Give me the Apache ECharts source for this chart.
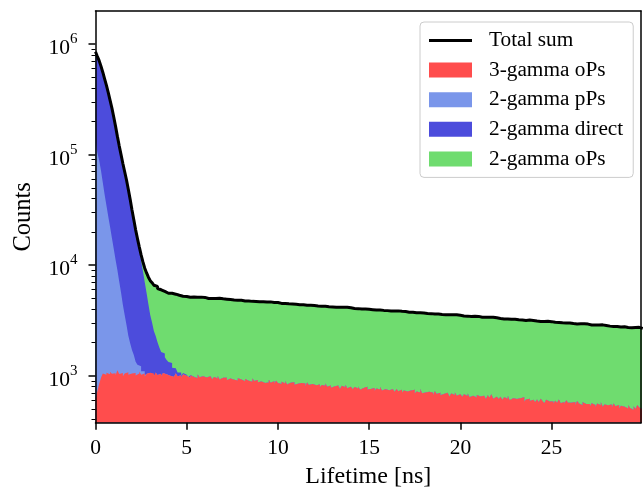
<!DOCTYPE html>
<html>
<head>
<meta charset="utf-8">
<script src="https://cdn.jsdelivr.net/npm/echarts@6/dist/echarts.min.js"></script>
<style>
  html, body { margin: 0; padding: 0; background: #ffffff; }
  #chart { width: 643px; height: 494px; }
</style>
</head>
<body>
<div id="chart"></div>
<script>
// Lifetime histogram, 0.1 ns bins starting at 0 ns (counts per bin).
const binWidth = 0.1;

// 3-gamma oPs counts
const threeGammaOPs = [
  620, 720, 840, 960, 1050, 1020, 1065, 1030, 1085, 1040,
  1055, 1010, 1120, 1035, 1060, 990, 1045, 1075, 1020, 1050,
  1030, 1060, 1005, 1045, 1090, 1020, 1050, 985, 1040, 1065,
  1025, 1050, 1000, 1070, 1015, 1040, 995, 1060, 1030, 1010,
  1000, 1035, 980, 1020, 1055, 990, 1010, 965, 1030, 1000,
  985, 960, 1010, 975, 1000, 950, 1025, 970, 990, 955,
  965, 940, 990, 950, 930, 975, 945, 995, 925, 960,
  935, 960, 910, 945, 975, 920, 940, 905, 950, 925,
  910, 890, 935, 900, 925, 880, 945, 895, 915, 875,
  885, 905, 860, 895, 870, 920, 865, 890, 850, 900,
  860, 840, 880, 850, 895, 835, 865, 845, 875, 830,
  845, 820, 860, 830, 850, 805, 870, 825, 840, 815,
  820, 800, 835, 790, 825, 810, 850, 795, 815, 780,
  800, 775, 815, 790, 760, 810, 785, 830, 770, 795,
  780, 755, 790, 765, 800, 745, 775, 760, 795, 750,
  760, 740, 775, 730, 765, 750, 790, 735, 755, 725,
  740, 720, 755, 730, 715, 760, 725, 745, 705, 735,
  720, 700, 735, 710, 745, 690, 720, 705, 760, 695,
  705, 680, 715, 690, 700, 670, 725, 685, 700, 665,
  685, 665, 700, 675, 650, 690, 670, 705, 660, 680,
  665, 645, 680, 655, 690, 640, 660, 675, 635, 670,
  650, 625, 660, 640, 615, 665, 635, 680, 620, 645,
  630, 615, 645, 605, 640, 620, 660, 600, 625, 610,
  615, 595, 625, 600, 640, 585, 610, 620, 590, 605,
  600, 580, 610, 575, 620, 590, 565, 605, 585, 595,
  585, 560, 595, 570, 610, 565, 580, 555, 600, 570,
  570, 550, 580, 545, 590, 560, 540, 575, 555, 565,
  555, 530, 565, 545, 520, 560, 540, 575, 525, 550,
  540, 520, 550, 515, 560, 530, 545, 505, 535, 525,
  525, 505, 540, 510, 490, 530, 500, 545, 515, 495
];

// 2-gamma pPs counts (no entries after the last listed bin)
const twoGammaPPs = [
  137000, 104000, 88000, 71000, 55000, 42500, 33500, 26500, 21000, 16600,
  13000, 10200, 7900, 6100, 4600, 3400, 2500, 1800, 1280, 920,
  680, 480, 330, 210, 130, 80, 50, 30, 18, 11,
  6, 3, 2, 1
];

// 2-gamma direct counts (no entries after the last listed bin)
const twoGammaDirect = [
  713400, 671300, 619200, 559000, 500000, 440500, 387500, 335500, 287000, 245400,
  205000, 168800, 137100, 112900, 94300, 78700, 66400, 56000, 46000, 37300,
  29750, 23980, 19130, 15500, 12430, 9880, 7700, 5980, 4550, 3360,
  2510, 1980, 1540, 1220, 990, 760, 640, 530, 440, 380,
  330, 270, 200, 150, 110, 80, 60, 40, 30, 20,
  12, 8, 5, 3, 2, 1
];

// 2-gamma oPs counts
const twoGammaOPs = [
  2, 3, 5, 6, 8, 10, 12, 15, 18, 22,
  25, 30, 35, 42, 50, 58, 68, 78, 90, 105,
  130, 200, 400, 650, 1000, 1400, 1900, 2400, 2900, 3350,
  3700, 3910, 4040, 4130, 4150, 4190, 4160, 4200, 4210, 4180,
  4240, 4265, 4270, 4295, 4280, 4270, 4260, 4230, 4220, 4190,
  4190, 4150, 4200, 4165, 4130, 4185, 4140, 4170, 4120, 4155,
  4095, 4060, 4105, 4045, 4080, 4025, 4070, 4015, 4055, 4000,
  3985, 3965, 4000, 3940, 3980, 3925, 3950, 3910, 3940, 3890,
  3895, 3860, 3885, 3840, 3870, 3825, 3845, 3805, 3835, 3790,
  3800, 3765, 3790, 3745, 3770, 3735, 3755, 3715, 3740, 3700,
  3705, 3670, 3695, 3650, 3670, 3635, 3655, 3615, 3640, 3600,
  3610, 3575, 3590, 3560, 3580, 3535, 3555, 3520, 3545, 3505,
  3510, 3480, 3495, 3460, 3475, 3440, 3465, 3420, 3445, 3410,
  3415, 3390, 3400, 3365, 3390, 3350, 3370, 3330, 3350, 3320,
  3325, 3300, 3315, 3280, 3295, 3260, 3280, 3245, 3265, 3235,
  3240, 3215, 3225, 3195, 3215, 3180, 3200, 3165, 3185, 3155,
  3160, 3135, 3150, 3115, 3130, 3100, 3120, 3085, 3105, 3075,
  3080, 3055, 3070, 3035, 3050, 3020, 3040, 3005, 3025, 2995,
  3000, 2975, 2990, 2955, 2970, 2940, 2960, 2925, 2945, 2915,
  2920, 2900, 2910, 2880, 2895, 2865, 2885, 2850, 2870, 2840,
  2845, 2825, 2835, 2805, 2820, 2790, 2810, 2780, 2795, 2770,
  2775, 2755, 2765, 2735, 2750, 2720, 2740, 2705, 2725, 2695,
  2700, 2680, 2690, 2660, 2675, 2645, 2665, 2635, 2650, 2625,
  2630, 2610, 2620, 2590, 2605, 2575, 2595, 2565, 2580, 2555,
  2560, 2545, 2555, 2525, 2540, 2510, 2530, 2500, 2515, 2490,
  2495, 2480, 2490, 2460, 2475, 2445, 2465, 2440, 2455, 2430,
  2430, 2415, 2425, 2395, 2410, 2385, 2400, 2375, 2390, 2365,
  2365, 2350, 2360, 2330, 2345, 2320, 2335, 2310, 2325, 2300,
  2305, 2290, 2300, 2270, 2285, 2260, 2275, 2250, 2265, 2245,
  2245, 2230, 2240, 2210, 2225, 2200, 2215, 2195, 2205, 2185
];

const xTickValues = [0, 5, 10, 15, 20, 25];
const yDecades = [3, 4, 5, 6];
const minorDecades = [2, 3, 4, 5, 6];
const xRange = [0, 29.9];
const yRange = [376, 1.99e6];

const colors = {
  total: '#000000',
  threeGammaOPs: '#ff4d4d',
  twoGammaPPs: '#7a96ea',
  twoGammaDirect: '#4c4cdc',
  twoGammaOPs: '#6fdc6f'
};

// Stack the components bottom-up: 3-gamma oPs, 2-gamma pPs, 2-gamma direct, 2-gamma oPs
const nBins = threeGammaOPs.length;
const layers = [threeGammaOPs, twoGammaPPs, twoGammaDirect, twoGammaOPs];
const cumulative = layers.map(() => []);
for (let i = 0; i < nBins; i++) {
  let sum = 0;
  layers.forEach((arr, k) => {
    sum += (i < arr.length ? arr[i] : 0);
    cumulative[k].push(sum);
  });
}

// The y axis runs in log10(counts); each bin is a left-edge point drawn as a step.
function stepData(values) {
  const pts = values.map((v, i) => [i * binWidth, Math.log10(v)]);
  pts.push([nBins * binWidth, Math.log10(values[nBins - 1])]);
  return pts;
}

const logMin = Math.log10(yRange[0]);
const logMax = Math.log10(yRange[1]);
const minorTicks = [];
minorDecades.forEach(d => {
  for (let k = 2; k <= 9; k++) {
    const v = d + Math.log10(k);
    if (v > logMin && v < logMax) minorTicks.push(v);
  }
});

const font = 'Liberation Serif';

function areaSeries(name, values, color) {
  return {
    name: name,
    type: 'line',
    step: 'end',
    data: stepData(values),
    symbol: 'none',
    showSymbol: false,
    clip: true,
    lineStyle: { width: 0, color: color },
    itemStyle: { color: color },
    areaStyle: { color: color, opacity: 1, origin: 'start' },
    emphasis: { disabled: true },
    silent: true
  };
}

const chart = echarts.init(document.getElementById('chart'), null, { renderer: 'canvas' });

chart.setOption({
  animation: false,
  backgroundColor: '#ffffff',
  grid: { left: 95.5, right: 2, top: 11, bottom: 71.3, containLabel: false },
  xAxis: [
    {
      type: 'value',
      min: xRange[0],
      max: xRange[1],
      position: 'bottom',
      z: 10,
      name: 'Lifetime [ns]',
      nameLocation: 'middle',
      nameGap: 41,
      nameTextStyle: { fontFamily: font, fontSize: 24, color: '#000' },
      axisLine: { show: true, lineStyle: { color: '#000', width: 1.5 } },
      axisTick: { show: true, customValues: xTickValues, length: 7, lineStyle: { color: '#000', width: 1.5 } },
      axisLabel: { show: true, customValues: xTickValues, margin: 15, fontFamily: font, fontSize: 21.5, color: '#000' },
      splitLine: { show: false }
    },
    {
      type: 'value',
      min: xRange[0],
      max: xRange[1],
      position: 'top',
      z: 10,
      axisLine: { show: true, lineStyle: { color: '#000', width: 1.5 } },
      axisTick: { show: false },
      axisLabel: { show: false },
      splitLine: { show: false }
    }
  ],
  yAxis: [
    {
      type: 'value',
      min: logMin,
      max: logMax,
      position: 'left',
      z: 10,
      name: 'Counts',
      nameLocation: 'middle',
      nameGap: 59,
      nameRotate: 90,
      nameTextStyle: { fontFamily: font, fontSize: 24.5, color: '#000' },
      axisLine: { show: true, lineStyle: { color: '#000', width: 1.5 } },
      axisTick: { show: true, customValues: yDecades, length: 7, lineStyle: { color: '#000', width: 1.5 } },
      axisLabel: {
        show: true,
        customValues: yDecades,
        margin: 18,
        padding: [3, 0, 0, 0],
        formatter: v => '{b|10}{s|' + Math.round(v) + '}',
        rich: {
          b: { fontFamily: font, fontSize: 21.5, color: '#000', verticalAlign: 'bottom' },
          s: { fontFamily: font, fontSize: 15, color: '#000', verticalAlign: 'bottom', padding: [0, 0, 13, 0] }
        }
      },
      splitLine: { show: false }
    },
    {
      type: 'value',
      min: logMin,
      max: logMax,
      position: 'left',
      offset: 0,
      z: 10,
      axisLine: { show: false },
      axisTick: { show: true, customValues: minorTicks, length: 4, lineStyle: { color: '#000', width: 1 } },
      axisLabel: { show: false },
      splitLine: { show: false }
    },
    {
      type: 'value',
      min: logMin,
      max: logMax,
      position: 'right',
      z: 10,
      axisLine: { show: true, lineStyle: { color: '#000', width: 1.5 } },
      axisTick: { show: false },
      axisLabel: { show: false },
      splitLine: { show: false }
    }
  ],
  legend: {
    orient: 'vertical',
    left: 420,
    top: 22,
    selectedMode: false,
    itemWidth: 43,
    itemHeight: 15,
    itemGap: 8.6,
    padding: [8, 10, 8, 9],
    backgroundColor: 'rgba(255,255,255,0.85)',
    borderColor: '#cccccc',
    borderWidth: 1,
    borderRadius: 4,
    textStyle: { fontFamily: font, fontSize: 21.3, color: '#000', padding: [0, 0, 0, 12] },
    data: [
      { name: 'Total sum', icon: 'path://M0,0 L43,0 L43,3 L0,3 Z', itemStyle: { color: colors.total } },
      { name: '3-gamma oPs', icon: 'rect' },
      { name: '2-gamma pPs', icon: 'rect' },
      { name: '2-gamma direct', icon: 'rect' },
      { name: '2-gamma oPs', icon: 'rect' }
    ]
  },
  series: [
    areaSeries('2-gamma oPs', cumulative[3], colors.twoGammaOPs),
    areaSeries('2-gamma direct', cumulative[2], colors.twoGammaDirect),
    areaSeries('2-gamma pPs', cumulative[1], colors.twoGammaPPs),
    areaSeries('3-gamma oPs', cumulative[0], colors.threeGammaOPs),
    {
      name: 'Total sum',
      type: 'line',
      step: 'end',
      data: stepData(cumulative[3]),
      symbol: 'none',
      showSymbol: false,
      clip: true,
      lineStyle: { width: 3, color: colors.total },
      itemStyle: { color: colors.total },
      emphasis: { disabled: true },
      silent: true,
      z: 5
    }
  ]
});
</script>
</body>
</html>
